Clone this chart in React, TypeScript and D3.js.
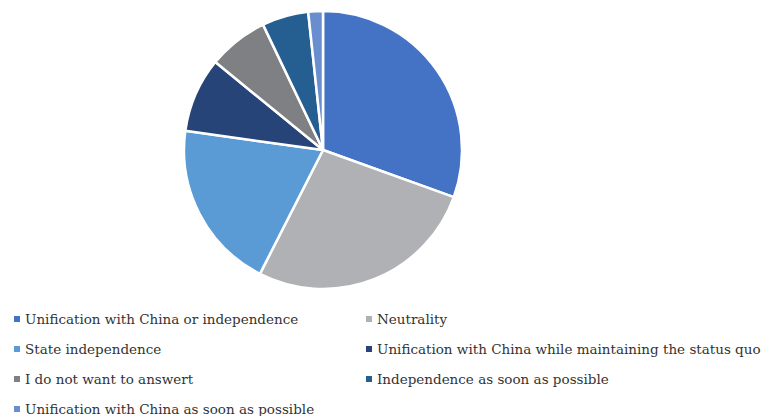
import React from "react";
import * as d3 from "d3";

const categories = [
  "Unification with China or independence",
  "Neutrality",
  "State independence",
  "Unification with China while maintaining the status quo",
  "I do not want to answert",
  "Independence as soon as possible",
  "Unification with China as soon as possible",
];
const values = [30.5, 27.0, 19.7, 8.7, 7.0, 5.4, 1.7];
const colors = ["#4472C4", "#B0B1B4", "#5B9BD5", "#264478", "#7F8083", "#255E91", "#698ED0"];

export default function App() {
  const W = 766, H = 416;
  const cx = 323, cy = 150, r = 139;
  const pie = d3.pie<number>().sort(null).value((d) => d);
  const arcs = pie(values);
  const arcGen = d3.arc<d3.PieArcDatum<number>>().innerRadius(0).outerRadius(r);
  const legendX = [14, 366];
  const legendY0 = 319, legendDY = 30;
  return (
    <svg width={W} height={H} style={{ position: "absolute", left: 0, top: 0 }}>
      <rect width={W} height={H} fill="#fff" />
      <g transform={`translate(${cx},${cy})`}>
        {arcs.map((a, i) => (
          <path key={i} d={arcGen(a) || ""} fill={colors[i]} stroke="#fff" strokeWidth={2.5} strokeLinejoin="round" />
        ))}
      </g>
      {categories.map((c, i) => {
        const col = i % 2;
        const row = Math.floor(i / 2);
        const x = legendX[col];
        const y = legendY0 + row * legendDY;
        return (
          <g key={c}>
            <rect x={x} y={y - 3} width={6} height={6} fill={colors[i]} />
            <text x={x + 11} y={y} dy="0.35em" fontFamily="DejaVu Serif" fontSize={13.5} fill="#333">
              {c}
            </text>
          </g>
        );
      })}
    </svg>
  );
}
